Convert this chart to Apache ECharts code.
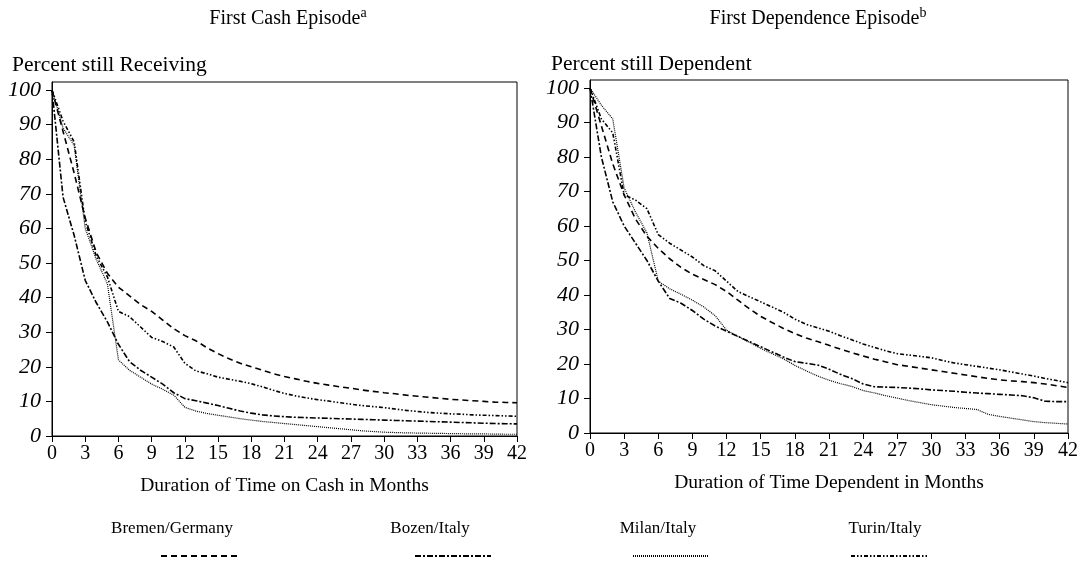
<!DOCTYPE html>
<html>
<head>
<meta charset="utf-8">
<script src="https://cdn.jsdelivr.net/npm/echarts@6/dist/echarts.min.js"></script>
<style>
  html, body {margin: 0; padding: 0; background: #fff;}
  #chart {width: 1081px; height: 564px;}
</style>
</head>
<body>
<div id="chart"></div>
<script>
const FONT = "'Liberation Serif', 'Times New Roman', serif";

const months = Array.from({length: 43}, (_, i) => i);
const yTicks = [0, 10, 20, 30, 40, 50, 60, 70, 80, 90, 100];
const seriesNames = ["Bremen/Germany", "Bozen/Italy", "Milan/Italy", "Turin/Italy"];

// First cash episode, percent still receiving, months 0..42
const cashBremen = [100, 88, 76, 63, 53, 47, 43, 40.5, 38, 36, 33.5, 31, 29, 27.5, 25.5, 23.8, 22.3, 21, 20, 19, 18, 17.2, 16.5, 15.8, 15.2, 14.7, 14.2, 13.8, 13.3, 12.9, 12.5, 12.2, 11.8, 11.5, 11.2, 10.9, 10.6, 10.4, 10.2, 10, 9.8, 9.7, 9.6];
const cashBozen = [100, 69, 58, 45, 38.5, 33, 26.5, 21.5, 19, 17, 15, 12.5, 10.8, 10.2, 9.5, 8.8, 8, 7.2, 6.6, 6.1, 5.8, 5.6, 5.4, 5.3, 5.2, 5.1, 5, 4.9, 4.8, 4.7, 4.6, 4.5, 4.4, 4.3, 4.2, 4.1, 4, 3.9, 3.8, 3.7, 3.6, 3.55, 3.5];
const cashMilan = [100, 89, 84, 60, 51, 44, 22, 19, 17, 15, 13.5, 11.8, 8.3, 7.2, 6.5, 6, 5.5, 5, 4.6, 4.2, 3.9, 3.6, 3.3, 3, 2.7, 2.4, 2.1, 1.8, 1.5, 1.3, 1.1, 1, 0.9, 0.85, 0.8, 0.75, 0.7, 0.65, 0.6, 0.6, 0.55, 0.5, 0.5];
const cashTurin = [100, 91, 85, 62, 52, 46, 36, 34.5, 31.5, 28.5, 27.3, 25.7, 21, 18.8, 18, 17, 16.4, 15.8, 15.1, 14.2, 13.2, 12.3, 11.6, 11, 10.5, 10.1, 9.6, 9.2, 8.8, 8.5, 8.2, 7.8, 7.4, 7.1, 6.8, 6.6, 6.4, 6.3, 6.1, 6, 5.9, 5.8, 5.7];

// First dependence episode, percent still dependent, months 0..42
const depBremen = [100, 89, 78, 69, 62, 57, 53.5, 50.5, 48, 46, 44.5, 43, 41, 38.5, 36, 33.8, 32, 30.3, 28.8, 27.5, 26.5, 25.4, 24.3, 23.3, 22.3, 21.4, 20.6, 19.8, 19.3, 18.8, 18.3, 17.8, 17.3, 16.8, 16.3, 15.8, 15.4, 15.1, 14.9, 14.6, 14.2, 13.7, 13.2];
const depBozen = [100, 80, 67, 60, 55, 50, 44, 39, 37.6, 35.5, 33, 31, 29.5, 28, 26.5, 25, 23.5, 22, 20.7, 20.2, 19.7, 18.5, 17, 15.8, 14.2, 13.4, 13.3, 13.2, 13, 12.8, 12.5, 12.3, 12.1, 11.8, 11.6, 11.4, 11.2, 11, 10.8, 10.2, 9.2, 9.1, 9.1];
const depMilan = [100, 95, 91, 71, 64, 58, 44, 41.8, 40.2, 38.5, 36.5, 34, 29.8, 28, 26.3, 24.5, 23, 21.5, 19.6, 18, 16.5, 15.3, 14.3, 13.5, 12.3, 11.6, 10.8, 10.1, 9.4, 8.8, 8.2, 7.8, 7.4, 7.1, 6.8, 5.4, 4.8, 4.3, 3.8, 3.3, 3, 2.8, 2.6];
const depTurin = [100, 91, 87, 69, 67.5, 65, 57.5, 55, 53, 51, 48.5, 47, 44, 41, 39.5, 38, 36.5, 35, 33, 31.5, 30.5, 29.5, 28.2, 27, 25.8, 24.8, 23.8, 23, 22.6, 22.2, 21.8, 21, 20.3, 19.8, 19.3, 18.8, 18.3, 17.7, 17.1, 16.5, 15.8, 15.2, 14.6];

const LINE_STYLES = {
  "Bremen/Germany": {type: [6, 4], width: 1.6},
  "Bozen/Italy": {type: [6, 2, 2, 2], width: 1.6},
  "Milan/Italy": {type: [1, 1], width: 1.2},
  "Turin/Italy": {type: [4, 2, 1.5, 2, 1.5, 2], width: 1.6},
};

const panels = [
  {values: [cashBremen, cashBozen, cashMilan, cashTurin]},
  {values: [depBremen, depBozen, depMilan, depTurin]},
];

function makeSeries(panelIdx) {
  return seriesNames.map((name, i) => ({
    name,
    type: "line",
    xAxisIndex: panelIdx,
    yAxisIndex: panelIdx,
    symbol: "none",
    animation: false,
    data: months.map((m, j) => [m, panels[panelIdx].values[i][j]]),
    lineStyle: {color: "#000", ...LINE_STYLES[name]},
    itemStyle: {color: "#000"},
  }));
}

function makeXAxis(gridIndex, name) {
  return {
    type: "value",
    gridIndex,
    min: 0,
    max: 42,
    interval: 3,
    name,
    nameLocation: "middle",
    nameGap: 40,
    nameTextStyle: {fontFamily: FONT, fontSize: 19.5, color: "#000"},
    axisLine: {lineStyle: {color: "#000", width: 1}},
    axisTick: {length: 6, lineStyle: {color: "#000"}},
    axisLabel: {fontFamily: FONT, fontSize: 20, color: "#000", margin: 8},
    splitLine: {show: false},
  };
}

function makeYAxis(gridIndex) {
  return {
    type: "value",
    gridIndex,
    min: 0,
    max: 102.3,
    axisLine: {show: true, lineStyle: {color: "#000", width: 1}},
    axisTick: {show: true, length: 6, customValues: yTicks, lineStyle: {color: "#000"}},
    axisLabel: {
      fontFamily: FONT, fontSize: 22, fontStyle: "italic", color: "#000",
      margin: 11, customValues: yTicks,
    },
    splitLine: {show: false},
  };
}

function makeTitle(main, sup, centerX) {
  return {
    text: `{m|${main}}{s|${sup}}`,
    left: centerX, top: 6, padding: 0, textAlign: "center",
    textStyle: {rich: {
      m: {fontFamily: FONT, fontSize: 20, fontWeight: "normal", color: "#000", lineHeight: 25},
      s: {fontFamily: FONT, fontSize: 14, fontWeight: "normal", color: "#000", verticalAlign: "top", lineHeight: 14},
    }},
  };
}

const legendX = [160, 414, 632, 850];
const legendTextX = [172, 430, 658, 885];

const chart = echarts.init(document.getElementById("chart"), null, {renderer: "canvas"});

const option = {
  backgroundColor: "#fff",
  animation: false,
  textStyle: {fontFamily: FONT},
  title: [
    makeTitle("First Cash Episode", "a", 288),
    makeTitle("First Dependence Episode", "b", 818),
    {
      text: "Percent still Receiving",
      left: 12, top: 54, padding: 0,
      textStyle: {fontFamily: FONT, fontSize: 21.5, fontWeight: "normal", color: "#000"},
    },
    {
      text: "Percent still Dependent",
      left: 551, top: 53, padding: 0,
      textStyle: {fontFamily: FONT, fontSize: 21.5, fontWeight: "normal", color: "#000"},
    },
  ],
  legend: seriesNames.map((name, i) => ({
    data: [name],
    left: legendX[i],
    top: 551,
    itemWidth: 76,
    itemHeight: 10,
    itemGap: 0,
    padding: 0,
    formatter: () => "",
    selectedMode: false,
    itemStyle: {opacity: 0, borderWidth: 0},
  })),
  graphic: seriesNames.map((name, i) => ({
    type: "text",
    x: legendTextX[i],
    y: 520,
    style: {text: name, fontFamily: FONT, fontSize: 17, fill: "#000", align: "center"},
  })),
  grid: [
    {left: 52, top: 82, width: 465, height: 354, show: true, borderColor: "#000", borderWidth: 1, outerBoundsMode: "none"},
    {left: 590, top: 80, width: 478, height: 353, show: true, borderColor: "#000", borderWidth: 1, outerBoundsMode: "none"},
  ],
  xAxis: [
    makeXAxis(0, "Duration of Time on Cash in Months"),
    makeXAxis(1, "Duration of Time Dependent in Months"),
  ],
  yAxis: [makeYAxis(0), makeYAxis(1)],
  series: [...makeSeries(0), ...makeSeries(1)],
};

chart.setOption(option);
</script>
</body>
</html>
